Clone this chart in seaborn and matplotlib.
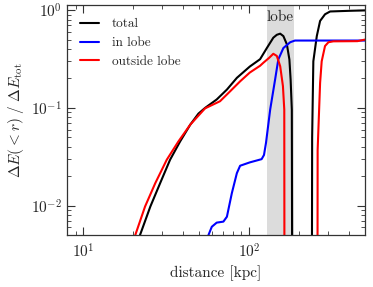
import numpy as np
import pandas as pd
import matplotlib
matplotlib.use("Agg")
import matplotlib.pyplot as plt
import seaborn as sns

# ---- data ----
tot_x1 = [22, 25.4, 29.1, 33.4, 38.4, 44.2, 49.5, 54.3, 63.8, 73.5, 84.4, 101, 116.5, 128, 140, 147, 154, 161, 169, 175, 178, 181, 182.5]
tot_y1 = [0.005, 0.0098, 0.017, 0.0295, 0.0454, 0.0674, 0.0874, 0.1, 0.122, 0.154, 0.203, 0.265, 0.315, 0.41, 0.523, 0.56, 0.575, 0.543, 0.447, 0.313, 0.195, 0.096, 1e-4]
tot_x2 = [238.5, 240, 244, 256, 268, 287, 308, 400, 500]
tot_y2 = [1e-4, 0.05, 0.30, 0.543, 0.776, 0.908, 0.97, 0.985, 0.995]

out_x1 = [20.6, 23.6, 27.2, 31.9, 37.5, 44.2, 54.3, 66.8, 76.9, 88.3, 101, 116.5, 122, 132, 140, 147, 154, 160, 163, 163.6]
out_y1 = [0.005, 0.0098, 0.017, 0.0295, 0.0454, 0.0674, 0.099, 0.117, 0.148, 0.187, 0.23, 0.27, 0.29, 0.325, 0.358, 0.34, 0.267, 0.167, 0.096, 1e-4]
out_x2 = [258, 259, 268, 274, 287, 301, 322, 450, 500]
out_y2 = [1e-4, 0.037, 0.18, 0.30, 0.43, 0.47, 0.48, 0.482, 0.50]

in_x = [56.9, 59.6, 63.8, 70, 73.5, 78.7, 84.4, 88.3, 101, 119, 123, 126.5, 134, 143.5, 150, 161, 177, 189, 500]
in_y = [0.005, 0.00608, 0.0067, 0.00686, 0.0077, 0.0134, 0.0215, 0.0256, 0.0277, 0.0299, 0.033, 0.044, 0.096, 0.195, 0.313, 0.41, 0.47, 0.489, 0.489]

lobe_lo, lobe_hi = 128, 187
labels = ["total", "in lobe", "outside lobe"]
colors = ["black", "blue", "red"]

# ---- style ----
sns.set_style("ticks")
plt.rcParams.update({
    "font.family": ["serif"],
    "font.serif": ["cmr10", "DejaVu Serif"],
    "mathtext.fontset": "cm",
    "axes.formatter.use_mathtext": True,
    "axes.unicode_minus": False,
    "xtick.direction": "in",
    "ytick.direction": "in",
    "xtick.top": True,
    "ytick.right": True,
    "xtick.major.size": 5.5,
    "ytick.major.size": 5.5,
    "xtick.minor.size": 3.2,
    "ytick.minor.size": 3.2,
    "axes.edgecolor": "#333333",
    "axes.linewidth": 0.9,
})

fig = plt.figure(figsize=(3.73, 2.87), dpi=100)
ax = fig.add_axes([0.18, 0.181, 0.7986, 0.8016])

ax.axvspan(lobe_lo, lobe_hi, color="#dcdcdc", lw=0, zorder=0)

lw = 1.5
def seg(x, y, c, label=None):
    d = pd.DataFrame({"x": x, "y": y})
    sns.lineplot(data=d, x="x", y="y", color=c, lw=lw, ax=ax, sort=False,
                 estimator=None, label=label, legend=bool(label))

seg(tot_x1, tot_y1, colors[0], labels[0])
seg(tot_x2, tot_y2, colors[0])
seg(in_x, in_y, colors[1], labels[1])
seg(out_x1, out_y1, colors[2], labels[2])
seg(out_x2, out_y2, colors[2])

ax.set_xscale("log")
ax.set_yscale("log")
ax.set_xlim(8, 500)
ax.set_ylim(0.005, 1.13)

ax.text(np.sqrt(lobe_lo * lobe_hi), 0.85, "lobe", ha="center", va="center", fontsize=11)

ax.set_xlabel("distance [kpc]", fontsize=11)
ax.set_ylabel(r"$\Delta E(<r)\ /\ \Delta E_{\rm tot}$", fontsize=11)
ax.tick_params(which="both", labelsize=11, color="#333333")
ax.tick_params(axis="x", pad=5)

ax.legend(loc="upper left", frameon=False, fontsize=9.5, handlelength=1.4,
          handletextpad=1.0, borderaxespad=0.6, labelspacing=0.5)

fig.savefig("out.png", dpi=100)
